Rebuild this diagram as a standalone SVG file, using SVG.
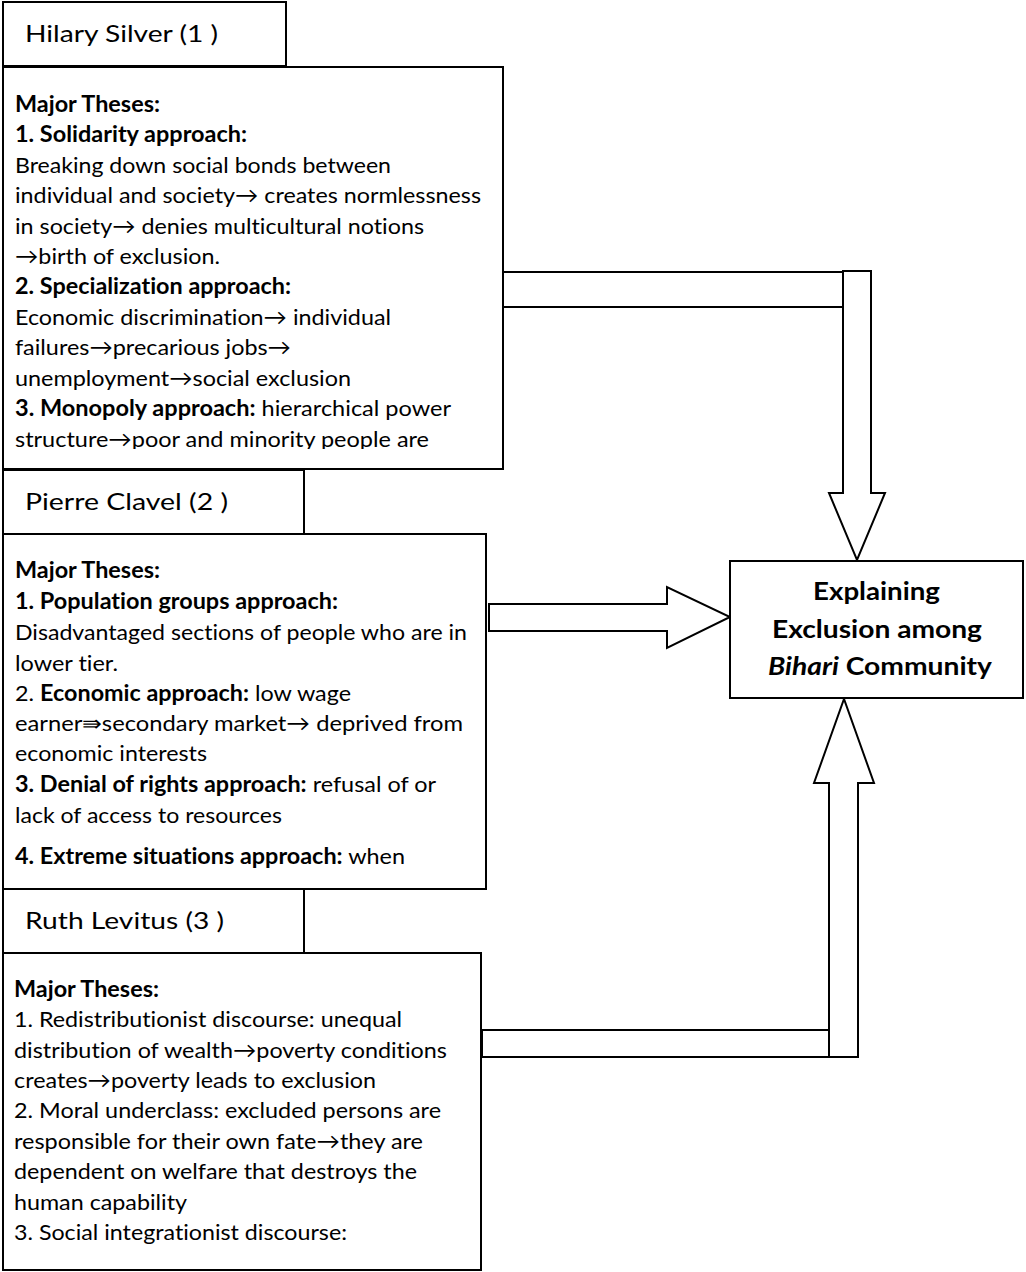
<svg xmlns="http://www.w3.org/2000/svg" width="1026" height="1272" viewBox="0 0 1026 1272">
<style>
.box{fill:#fff;stroke:#000;stroke-width:2}
.arr{fill:#fff;stroke:#000;stroke-width:2;stroke-linejoin:miter}
text{font-variant-ligatures:none;font-kerning:normal}
.t{font-family:Lato,"Open Sans","Liberation Sans",sans-serif;font-size:22px;fill:#000}
.ti{font-family:Lato,"Open Sans","Liberation Sans",sans-serif;font-size:24px;fill:#000}
.c{font-family:Lato,"Open Sans","Liberation Sans",sans-serif;font-size:25px;font-weight:bold;fill:#000}
.b{font-weight:bold}
</style>
<defs>
<clipPath id="clip1"><rect x="4" y="68" width="498" height="381"/></clipPath>
</defs>
<g id="connectors">
<rect class="arr" x="503" y="272" width="340" height="35"/>
<polygon class="arr" points="843,271 871,271 871,493 885,493 857,560 829,493 843,493"/>
<polygon class="arr" points="489,604 667,604 667,587 730,617 667,648 667,631 489,631"/>
<rect class="arr" x="482" y="1030" width="348" height="27"/>
<polygon class="arr" points="829,1057 829,783 814,783 844,699 874,783 858,783 858,1057"/>
</g>
<g id="silver-title">
<rect class="box" x="3" y="2" width="283" height="64"/>
<text class="ti" x="25" y="42" textLength="193" lengthAdjust="spacingAndGlyphs">Hilary Silver (1 )</text>
</g>
<g id="silver-body">
<rect class="box" x="3" y="67" width="500" height="402"/>
<g clip-path="url(#clip1)">
<text class="t" x="15" y="111.7" textLength="145" lengthAdjust="spacingAndGlyphs"><tspan class="b">Major Theses:</tspan></text>
<text class="t" x="15" y="142.2" textLength="232" lengthAdjust="spacingAndGlyphs"><tspan class="b">1. Solidarity approach:</tspan></text>
<text class="t" x="15" y="172.6" textLength="376" lengthAdjust="spacingAndGlyphs">Breaking down social bonds between</text>
<text class="t" x="15" y="203" textLength="466" lengthAdjust="spacingAndGlyphs">individual and society→ creates normlessness</text>
<text class="t" x="15" y="233.5" textLength="409" lengthAdjust="spacingAndGlyphs">in society→ denies multicultural notions</text>
<text class="t" x="15" y="264" textLength="205" lengthAdjust="spacingAndGlyphs">→birth of exclusion.</text>
<text class="t" x="15" y="294.4" textLength="276" lengthAdjust="spacingAndGlyphs"><tspan class="b">2. Specialization approach:</tspan></text>
<text class="t" x="15" y="324.8" textLength="376" lengthAdjust="spacingAndGlyphs">Economic discrimination→ individual</text>
<text class="t" x="15" y="355.3" textLength="276" lengthAdjust="spacingAndGlyphs">failures→precarious jobs→</text>
<text class="t" x="15" y="385.7" textLength="336" lengthAdjust="spacingAndGlyphs">unemployment→social exclusion</text>
<text class="t" x="15" y="416.2" textLength="436" lengthAdjust="spacingAndGlyphs"><tspan class="b">3. Monopoly approach:</tspan> hierarchical power</text>
<text class="t" x="15" y="446.6" textLength="414" lengthAdjust="spacingAndGlyphs">structure→poor and minority people are</text>
</g>
</g>
<g id="clavel-title">
<rect class="box" x="3" y="470" width="301" height="64"/>
<text class="ti" x="25" y="510" textLength="203" lengthAdjust="spacingAndGlyphs">Pierre Clavel (2 )</text>
</g>
<g id="clavel-body">
<rect class="box" x="3" y="534" width="483" height="355"/>
<text class="t" x="15" y="578.3" textLength="145" lengthAdjust="spacingAndGlyphs"><tspan class="b">Major Theses:</tspan></text>
<text class="t" x="15" y="609.3" textLength="323" lengthAdjust="spacingAndGlyphs"><tspan class="b">1. Population groups approach:</tspan></text>
<text class="t" x="15" y="640" textLength="452" lengthAdjust="spacingAndGlyphs">Disadvantaged sections of people who are in</text>
<text class="t" x="15" y="670.7" textLength="103" lengthAdjust="spacingAndGlyphs">lower tier.</text>
<text class="t" x="15" y="700.7" textLength="336" lengthAdjust="spacingAndGlyphs">2. <tspan class="b">Economic approach:</tspan> low wage</text>
<text class="t" x="15" y="730.7" textLength="448" lengthAdjust="spacingAndGlyphs">earner⇛secondary market→ deprived from</text>
<text class="t" x="15" y="760.7" textLength="192" lengthAdjust="spacingAndGlyphs">economic interests</text>
<text class="t" x="15" y="792.3" textLength="421" lengthAdjust="spacingAndGlyphs"><tspan class="b">3. Denial of rights approach:</tspan> refusal of or</text>
<text class="t" x="15" y="822.7" textLength="267" lengthAdjust="spacingAndGlyphs">lack of access to resources</text>
<text class="t" x="15" y="864" textLength="390" lengthAdjust="spacingAndGlyphs"><tspan class="b">4. Extreme situations approach:</tspan> when</text>
</g>
<g id="levitus-title">
<rect class="box" x="3" y="889" width="301" height="64"/>
<text class="ti" x="25" y="929" textLength="199" lengthAdjust="spacingAndGlyphs">Ruth Levitus (3 )</text>
</g>
<g id="levitus-body">
<rect class="box" x="3" y="953" width="478" height="317"/>
<text class="t" x="14" y="996.7" textLength="145" lengthAdjust="spacingAndGlyphs"><tspan class="b">Major Theses:</tspan></text>
<text class="t" x="14" y="1027.3" textLength="388" lengthAdjust="spacingAndGlyphs">1. Redistributionist discourse: unequal</text>
<text class="t" x="14" y="1057.7" textLength="433" lengthAdjust="spacingAndGlyphs">distribution of wealth→poverty conditions</text>
<text class="t" x="14" y="1088.3" textLength="362" lengthAdjust="spacingAndGlyphs">creates→poverty leads to exclusion</text>
<text class="t" x="14" y="1118.3" textLength="427" lengthAdjust="spacingAndGlyphs">2. Moral underclass: excluded persons are</text>
<text class="t" x="14" y="1149.3" textLength="409" lengthAdjust="spacingAndGlyphs">responsible for their own fate→they are</text>
<text class="t" x="14" y="1179.3" textLength="403" lengthAdjust="spacingAndGlyphs">dependent on welfare that destroys the</text>
<text class="t" x="14" y="1210" textLength="173" lengthAdjust="spacingAndGlyphs">human capability</text>
<text class="t" x="14" y="1240" textLength="333" lengthAdjust="spacingAndGlyphs">3. Social integrationist discourse:</text>
</g>
<g id="center">
<rect class="box" x="730" y="561" width="293" height="137"/>
<text class="c" x="813" y="600" textLength="127" lengthAdjust="spacingAndGlyphs">Explaining</text>
<text class="c" x="772" y="638" textLength="210" lengthAdjust="spacingAndGlyphs">Exclusion among</text>
<text class="c" x="768" y="675" textLength="224" lengthAdjust="spacingAndGlyphs"><tspan font-style="italic">Bihari</tspan> Community</text>
</g>
</svg>
